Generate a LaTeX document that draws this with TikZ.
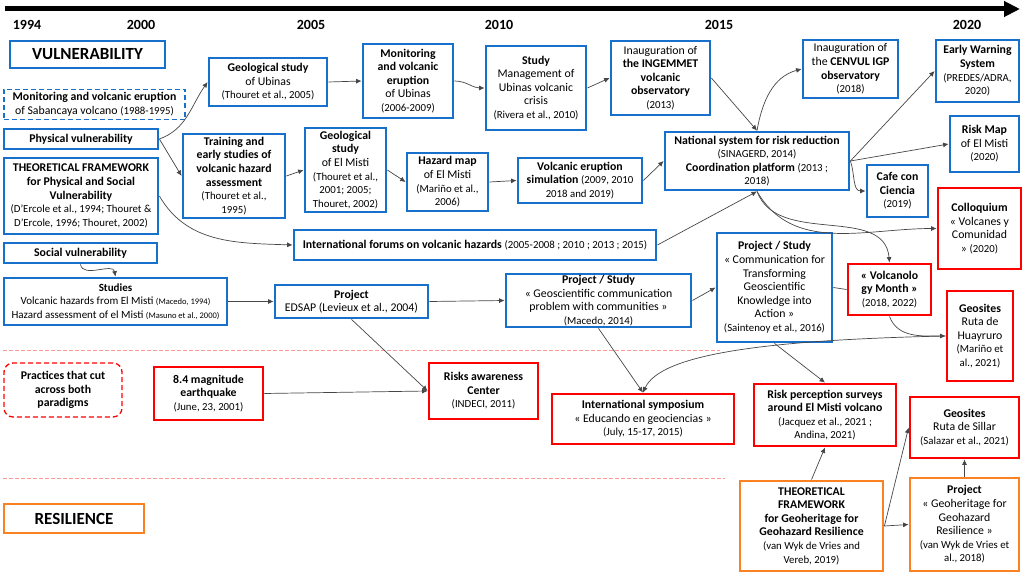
\documentclass[tikz,border=0pt]{standalone}
\usepackage{fontspec}
\setmainfont{Carlito}
\usetikzlibrary{arrows.meta}

\definecolor{vulblue}{RGB}{22,112,204}
\definecolor{culred}{RGB}{255,0,0}
\definecolor{resorange}{RGB}{250,130,35}
\definecolor{linkgray}{RGB}{70,70,70}

\tikzset{
  box/.style={align=center, inner sep=0.5pt, line width=2.8pt, font=\fontsize{11.8}{13.6}\selectfont},
  bluebox/.style={box, draw=vulblue},
  redbox/.style={box, draw=culred},
  orangebox/.style={box, draw=resorange},
  yearlabel/.style={font=\fontsize{14}{16}\selectfont\bfseries},
  paradigm/.style={box, font=\fontsize{17}{19}\selectfont\bfseries},
  link/.style={draw=linkgray, line width=0.7pt, -{Latex[length=5.5pt,width=5pt]}},
}
\newcommand{\src}[1]{{\fontsize{10.8}{13.6}\selectfont #1}}
\newcommand{\smallsrc}[1]{{\fontsize{8.5}{13.6}\selectfont #1}}

\begin{document}
\begin{tikzpicture}[x=1pt,y=-1pt]
    \useasboundingbox (0,0) rectangle (1024,575);
    % Time axis
    \draw[line width=5pt, -{Triangle[length=16pt,width=15pt]}] (5,9) -- (1020,9);
    \node[yearlabel] (y1994) at (27,25) {1994};
    \node[yearlabel] (y2000) at (141,25) {2000};
    \node[yearlabel] (y2005) at (311,25) {2005};
    \node[yearlabel] (y2010) at (499,25) {2010};
    \node[yearlabel] (y2015) at (719,25) {2015};
    \node[yearlabel] (y2020) at (967,25) {2020};
    % Borders between the paradigms
    \draw[culred!40, line width=1pt, dash pattern=on 4pt off 2pt] (3,350) -- (720,350);
    \draw[culred!40, line width=1pt, dash pattern=on 4pt off 2pt] (3,478) -- (725,478);
    % Paradigm labels
    \node[paradigm, draw=vulblue, minimum width=155, minimum height=27] (vuln) at (87.5,54.5) {VULNERABILITY};
    \node[paradigm, draw=resorange, minimum width=140, minimum height=29] (resil) at (74,518.5) {RESILIENCE};
    \node[box, draw=culred, line width=1.3pt, dash pattern=on 5pt off 3pt, rounded corners=9pt, minimum width=118, minimum height=54] (practices) at (63,390) {\textbf{Practices that cut}\\\textbf{across both}\\\textbf{paradigms}};
    % Vulnerability: left column
    \node[bluebox, line width=1.6pt, dash pattern=on 5pt off 3pt, minimum width=181, minimum height=30] (sabancaya) at (94.5,104.5) {\textbf{Monitoring and volcanic eruption}\\of Sabancaya volcano \src{(1988-1995)}};
    \node[bluebox, minimum width=154, minimum height=20] (physvul) at (81,139) {\textbf{Physical vulnerability}};
    \node[bluebox, minimum width=154, minimum height=76] (theofw) at (81,196) {\textbf{THEORETICAL FRAMEWORK}\\\textbf{for Physical and Social}\\\textbf{Vulnerability}\\\src{(D’Ercole et al., 1994; Thouret \&}\\\src{D’Ercole, 1996; Thouret, 2002)}};
    \node[bluebox, minimum width=153, minimum height=20] (socvul) at (80.5,253) {\textbf{Social vulnerability}};
    \node[bluebox, minimum width=223, minimum height=47, font=\fontsize{11}{13.6}\selectfont] (studies) at (115.5,301.5) {\textbf{Studies}\\Volcanic hazards from El Misti \smallsrc{(Macedo, 1994)}\\Hazard assessment of el Misti \smallsrc{(Masuno et al., 2000)}};
    % Vulnerability: studies and monitoring
    \node[bluebox, minimum width=118, minimum height=48] (geoubi) at (268,82) {\textbf{Geological study}\\of Ubinas\\\src{(Thouret et al., 2005)}};
    \node[bluebox, minimum width=102, minimum height=84] (training) at (234,176) {\textbf{Training and}\\\textbf{early studies of}\\\textbf{volcanic hazard}\\\textbf{assessment}\\\src{(Thouret et al.,}\\\src{1995)}};
    \node[bluebox, minimum width=81, minimum height=84] (geomisti) at (345.5,170) {\textbf{Geological}\\\textbf{study}\\of El Misti\\\src{(Thouret et al.,}\\\src{2001; 2005;}\\\src{Thouret, 2002)}};
    \node[bluebox, minimum width=90, minimum height=74] (monubi) at (408,81) {\textbf{Monitoring}\\\textbf{and volcanic}\\\textbf{eruption}\\of Ubinas\\\src{(2006-2009)}};
    \node[bluebox, minimum width=100, minimum height=84] (mgmt) at (536,88) {\textbf{Study}\\Management of\\Ubinas volcanic\\crisis\\\src{(Rivera et al., 2010)}};
    \node[bluebox, minimum width=81, minimum height=58] (hazmap) at (447.5,182) {\textbf{Hazard map}\\of El Misti\\\src{(Mariño et al.,}\\\src{2006)}};
    \node[bluebox, minimum width=124, minimum height=45] (simul) at (580,180.5) {\textbf{Volcanic eruption}\\\textbf{simulation} \src{(2009, 2010}\\\src{2018 and 2019)}};
    \node[bluebox, minimum width=99, minimum height=74] (ingemmet) at (660.5,78) {Inauguration of\\\textbf{the INGEMMET}\\\textbf{volcanic}\\\textbf{observatory}\\\src{(2013)}};
    \node[bluebox, minimum width=95, minimum height=58] (cenvul) at (850.5,69) {Inauguration of\\the \textbf{CENVUL IGP}\\\textbf{observatory}\\\src{(2018)}};
    \node[bluebox, minimum width=83, minimum height=62] (ews) at (977.5,71) {\textbf{Early Warning}\\\textbf{System}\\\src{(PREDES/ADRA,}\\\src{2020)}};
    \node[bluebox, minimum width=184, minimum height=58] (natsys) at (757,161) {\textbf{National system for risk reduction}\\\src{(SINAGERD, 2014)}\\\textbf{Coordination platform} \src{(2013 ;}\\\src{2018)}};
    \node[bluebox, minimum width=69, minimum height=56] (riskmap) at (984.5,144) {\textbf{Risk Map}\\of El Misti\\\src{(2020)}};
    \node[bluebox, minimum width=61, minimum height=52] (cafe) at (897.5,191) {\textbf{Cafe con}\\\textbf{Ciencia}\\\src{(2019)}};
    \node[redbox, minimum width=83, minimum height=81] (colloq) at (979.5,228.5) {\textbf{Colloquium}\\« Volcanes y\\Comunidad\\» \src{(2020)}};
    \node[bluebox, minimum width=362, minimum height=30] (forums) at (475,245) {\textbf{International forums on volcanic hazards} \src{(2005-2008 ; 2010 ; 2013 ; 2015)}};
    % Vulnerability: communication
    \node[bluebox, minimum width=153, minimum height=33] (edsap) at (351.5,301.5) {\textbf{Project}\\EDSAP (Levieux et al., 2004)};
    \node[bluebox, minimum width=185, minimum height=53] (geocom) at (598.5,300.5) {\textbf{Project / Study}\\« Geoscientific communication\\problem with communities »\\\src{(Macedo, 2014)}};
    \node[bluebox, minimum width=115, minimum height=109] (transf) at (774.5,287.5) {\textbf{Project / Study}\\« Communication for\\Transforming\\Geoscientific\\Knowledge into\\Action »\\\src{(Saintenoy et al., 2016)}};
    \node[redbox, minimum width=83, minimum height=51] (volcmonth) at (889.5,289.5) {\textbf{« Volcanolo}\\\textbf{gy Month »}\\\src{(2018, 2022)}};
    \node[redbox, minimum width=66, minimum height=90] (huayruro) at (980,336) {\textbf{Geosites}\\Ruta de\\Huayruro\\\src{(Mariño et}\\\src{al., 2021)}};
    % Practices across both paradigms
    \node[redbox, minimum width=109, minimum height=53] (quake) at (208.5,393.5) {\textbf{8.4 magnitude}\\\textbf{earthquake}\\\src{(June, 23, 2001)}};
    \node[redbox, minimum width=109, minimum height=56] (riskcenter) at (483.5,391) {\textbf{Risks awareness}\\\textbf{Center}\\\src{(INDECI, 2011)}};
    \node[redbox, minimum width=182, minimum height=50] (symposium) at (643,419) {\textbf{International symposium}\\« Educando en geociencias »\\\src{(July, 15-17, 2015)}};
    \node[redbox, minimum width=142, minimum height=62] (perception) at (825,415) {\textbf{Risk perception surveys}\\\textbf{around El Misti volcano}\\\src{(Jacquez et al., 2021 ;}\\\src{Andina, 2021)}};
    \node[redbox, minimum width=109, minimum height=61] (sillar) at (964.5,427.5) {\textbf{Geosites}\\Ruta de Sillar\\\src{(Salazar et al., 2021)}};
    % Resilience
    \node[orangebox, minimum width=143, minimum height=90] (geoherit) at (811.5,526) {\textbf{THEORETICAL}\\\textbf{FRAMEWORK}\\\textbf{for Geoheritage for}\\\textbf{Geohazard Resilience}\\\src{(van Wyk de Vries and}\\\src{Vereb, 2019)}};
    \node[orangebox, minimum width=109, minimum height=93] (projgeo) at (964.5,524.5) {\textbf{Project}\\« Geoheritage for\\Geohazard\\Resilience »\\\src{(van Wyk de Vries et}\\\src{al., 2018)}};
    % Connectors
    \draw[link] (physvul.east) to[out=20,in=235] (geoubi.west);
    \draw[link] (physvul.east) -- (training.west);
    \draw[link] (training.east) -- (geomisti.west);
    \draw[link] (geoubi.east) -- (monubi.west);
    \draw[link] (monubi.east) to[out=0,in=180] (mgmt.west);
    \draw[link] (mgmt.east) -- (ingemmet.west);
    \draw[link] (geomisti.east) -- (hazmap.west);
    \draw[link] (hazmap.east) -- (simul.west);
    \draw[link] (simul.east) -- (natsys.west);
    \draw[link] (ingemmet.east) -- (natsys.north);
    \draw[link] (natsys.north) to[out=80,in=195] (cenvul.west);
    \draw[link] (natsys.east) -- (ews.west);
    \draw[link] (natsys.east) -- (riskmap.west);
    \draw[link] (natsys.east) to[out=-70,in=180] (cafe.west);
    \draw[link] (natsys.south) to[out=-60,in=180] (colloq.west);
    \draw[link] (natsys.south) to[out=-70,in=95] (volcmonth.north);
    \draw[link] (forums.east) -- (natsys.south);
    \draw[link] (theofw.east) to[out=-60,in=178] (forums.west);
    \draw[link] (socvul.south) to[out=-80,in=100] (studies.north);
    \draw[link] (studies.east) -- (edsap.west);
    \draw[link] (edsap.east) -- (geocom.west);
    \draw[link] (geocom.east) -- (transf.west);
    \draw[draw=linkgray, line width=0.7pt] (transf.east) -- (volcmonth.west);
    \draw[link] (volcmonth.south) to[out=-70,in=180] (huayruro.west);
    \draw[link] (huayruro.west) .. controls (760,340) and (660,355) .. (symposium.north);
    \draw[link] (geocom.south) -- (symposium.north);
    \draw[link] (edsap.south) -- (riskcenter.west);
    \draw[link] (quake.east) -- (riskcenter.west);
    \draw[link] (transf.south) -- (perception.north);
    \draw[link] (geoherit.north) -- (perception.south);
    \draw[link] (geoherit.east) -- (projgeo.west);
    \draw[link] (geoherit.east) -- (sillar.west);
    \draw[link] (projgeo.north) -- (sillar.south);
\end{tikzpicture}
\end{document}
